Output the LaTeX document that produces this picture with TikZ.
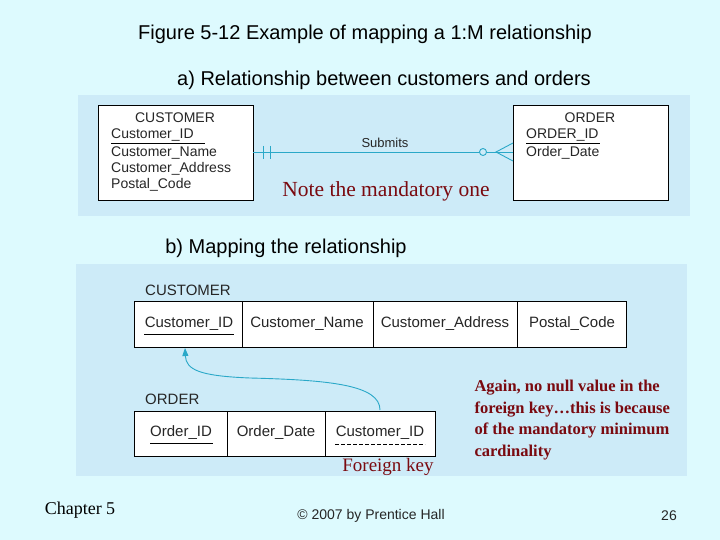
\documentclass[tikz,border=0pt]{standalone}
\usepackage{fontspec}
\setmainfont{Liberation Sans}
\newfontfamily\seriff{Liberation Serif}
\usetikzlibrary{arrows.meta}
\definecolor{bgc}{HTML}{DDFAFE}
\definecolor{panel}{HTML}{CDEBF8}
\definecolor{note}{HTML}{7A0A10}
\definecolor{lnk}{HTML}{2AA8C8}
\tikzset{
  ent/.style={draw=black,fill=white,line width=0.8pt},
  attr/.style={anchor=west,font=\fontsize{14}{16}\selectfont,inner sep=0pt,text=black!85},
  cell/.style={font=\fontsize{15}{17}\selectfont,inner sep=0pt,text=black!85},
  notet/.style={font=\seriff\fontsize{19}{22}\selectfont,text=note},
  head/.style={font=\fontsize{20}{24}\selectfont}
}
\begin{document}
\begin{tikzpicture}[x=1pt,y=-1pt]
\fill[bgc] (0,0) rectangle (720,540);
\useasboundingbox (0,0) rectangle (720,540);
\node[head] (t1) at (365,34) {Figure 5-12 Example of mapping a 1:M relationship};
\node[head] (t2) at (384,80) {a) Relationship between customers and orders};
\fill[panel] (78,95) rectangle (690,216);
% top ER
\draw[ent] (98,105) rectangle (253,200);
\node[attr,anchor=center] (cn) at (175,118) {CUSTOMER};
\node[attr] (c1) at (111,135) {Customer\_ID};
\draw (111,143) -- (205,143);
\node[attr] (c2) at (111,153) {Customer\_Name};
\node[attr] (c3) at (111,169) {Customer\_Address};
\node[attr] (c4) at (111,185) {Postal\_Code};
\draw[ent] (513,105) rectangle (668,200);
\node[attr,anchor=center] (on) at (590,118) {ORDER};
\node[attr] (o1) at (526,135) {ORDER\_ID};
\draw (526,143) -- (600,143);
\node[attr] (o2) at (526,153) {Order\_Date};
\coordinate (la) at (253,152);
\coordinate (lb) at (513,152);
\draw[lnk,line width=0.9pt] (la) -- (lb);
\draw[lnk,line width=0.9pt] (263,146) -- (263,159) (270,146) -- (270,159);
\draw[lnk,line width=0.9pt,fill=panel] (483,152) circle (3.5);
\draw[lnk,line width=0.9pt] (513,143) -- (496,152) -- (513,161);
\node[font=\fontsize{13}{15}\selectfont,text=black!85] (sub) at (385,143) {Submits};
\node[notet,font=\seriff\fontsize{21.5}{24}\selectfont] (n1) at (386,191) {Note the mandatory one};
% b
\node[head] (t3) at (286,248) {b) Mapping the relationship};
\fill[panel] (76,264) rectangle (687,476);
\node[attr,font=\fontsize{15}{17}\selectfont] (ct) at (145,290) {CUSTOMER};
\draw[ent] (134,301) rectangle (626,347);
\draw[line width=0.8pt] (242,301) -- (242,347) (373,301) -- (373,347) (517,301) -- (517,347);
\node[cell] (k1) at (189,324) {Customer\_ID};
\draw (144,334) -- (234,334);
\node[cell] (k2) at (307,324) {Customer\_Name};
\node[cell] (k3) at (445,324) {Customer\_Address};
\node[cell] (k4) at (572,324) {Postal\_Code};
\node[attr,font=\fontsize{15}{17}\selectfont] (ot) at (145,399) {ORDER};
\draw[ent] (134,411) rectangle (435,456);
\draw[line width=0.8pt] (227,411) -- (227,456) (325,411) -- (325,456);
\node[cell] (p1) at (181,433) {Order\_ID};
\draw (150,443) -- (213,443);
\node[cell] (p2) at (276,433) {Order\_Date};
\node[cell] (p3) at (380,433) {Customer\_ID};
\draw[dashed,dash pattern=on 4pt off 2pt] (335,444) -- (425,444);
\coordinate (fa) at (380,410);
\coordinate (fb) at (185,348);
\draw[lnk,line width=0.9pt,-{Triangle[length=8pt,width=6pt]}] (fa) .. controls (380,385) and (330,380) .. (250,378) .. controls (200,376) and (186,370) .. (fb);
\node[notet] (fk) at (388,467) {Foreign key};
\node[notet,align=left,anchor=north west,font=\seriff\fontsize{16.5}{21.5}\selectfont\bfseries] (n2) at (471,377) {Again, no null value in the\\foreign key\ldots this is because\\of the mandatory minimum\\cardinality};
\node[font=\seriff\fontsize{18}{20}\selectfont] (ch) at (80,510) {Chapter 5};
\node[font=\fontsize{14}{16}\selectfont,text=black!85] (cp) at (371,516) {© 2007 by Prentice Hall};
\node[font=\fontsize{14}{16}\selectfont,text=black!85] (pg) at (669,516) {26};
\end{tikzpicture}
\end{document}
